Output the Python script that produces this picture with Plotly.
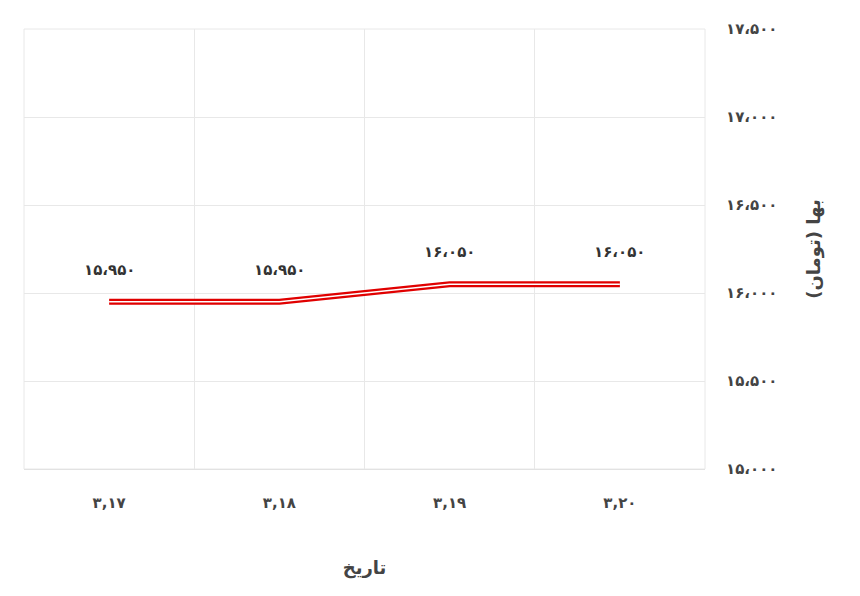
import plotly.graph_objects as go

dates = ["۳,۱۷", "۳,۱۸", "۳,۱۹", "۳,۲۰"]
prices = [15950, 15950, 16050, 16050]
price_labels = ["۱۵،۹۵۰", "۱۵،۹۵۰", "۱۶،۰۵۰", "۱۶،۰۵۰"]
ytick_vals = [15000, 15500, 16000, 16500, 17000, 17500]
ytick_text = ["۱۵،۰۰۰", "۱۵،۵۰۰", "۱۶،۰۰۰", "۱۶،۵۰۰", "۱۷،۰۰۰", "۱۷،۵۰۰"]

x = list(range(len(dates)))
font = "DejaVu Sans"
fig = go.Figure()
fig.add_trace(go.Scatter(x=x, y=prices, mode="lines", line=dict(color="#e00000", width=6), hoverinfo="skip"))
fig.add_trace(go.Scatter(x=x, y=prices, mode="lines", line=dict(color="white", width=1.5)))
for xi, yi, t in zip(x, prices, price_labels):
    fig.add_annotation(x=xi, y=yi, text=t, showarrow=False, yshift=32,
                       font=dict(family=font, size=15, color="#333", weight="bold"))
fig.update_layout(
    width=860, height=596, showlegend=False,
    plot_bgcolor="white", paper_bgcolor="white",
    margin=dict(l=16, r=163, t=18, b=135),
    xaxis=dict(range=[-0.5, 3.5], tickvals=x, ticktext=dates, showgrid=False, zeroline=False,
               showline=True, linecolor="#ddd", ticks="", ticklabelstandoff=20,
               tickfont=dict(family=font, size=15, color="#444", weight="bold"),
               minor=dict(tickvals=[-0.5, 0.5, 1.5, 2.5, 3.5], showgrid=True, gridcolor="#e8e8e8"),
               title=dict(text="تاریخ", font=dict(family=font, size=18, color="#444", weight="bold"), standoff=50)),
    yaxis=dict(range=[15000, 17500], side="right", tickvals=ytick_vals, ticktext=ytick_text,
               gridcolor="#e8e8e8", zeroline=False, ticklabelstandoff=20,
               tickfont=dict(family=font, size=15, color="#444", weight="bold"),
               title=dict(text="بها (تومان)", font=dict(family=font, size=18, color="#444", weight="bold"), standoff=30)),
)
fig.add_shape(type="rect", xref="paper", yref="paper", x0=0, x1=1, y0=0, y1=1, line=dict(color="#e8e8e8", width=1))
fig.write_html("out.html")
